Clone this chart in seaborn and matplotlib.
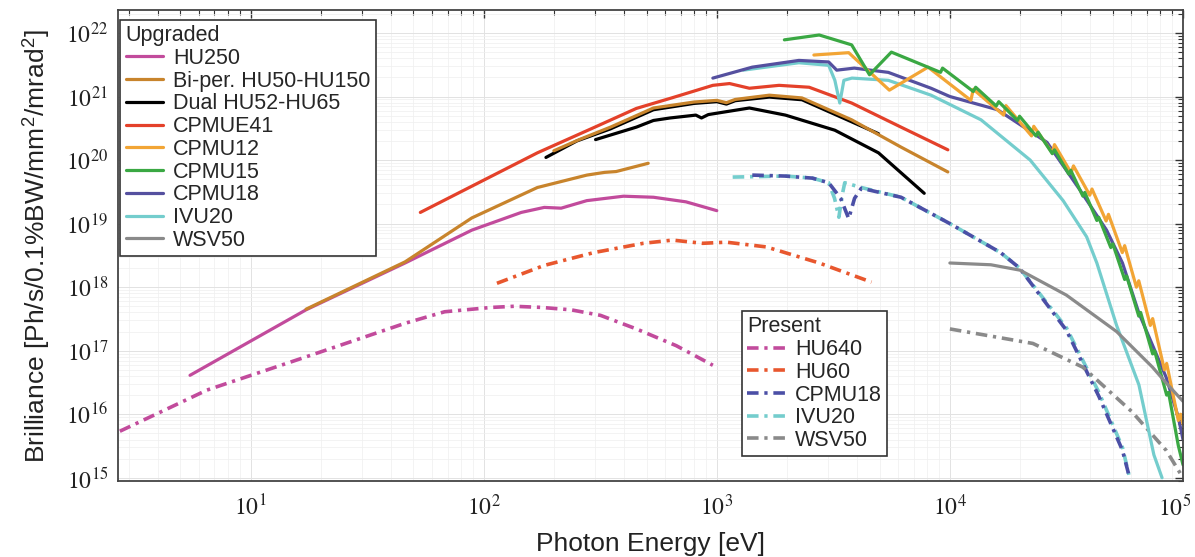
import matplotlib
matplotlib.use("Agg")
import matplotlib.pyplot as plt
from matplotlib.ticker import LogLocator, FixedLocator, FuncFormatter, NullFormatter
from matplotlib.transforms import ScaledTranslation
import seaborn as sns
import numpy as np

# ---------------- data ----------------
# Upgraded sources (solid)
hu250_E = [5.5, 17.3, 46, 89, 145, 182, 215, 277, 398, 535, 738, 1000]
hu250_B = [4.1e16, 4.4e17, 2.4e18, 7.9e18, 1.5e19, 1.8e19, 1.75e19, 2.3e19, 2.7e19, 2.6e19, 2.2e19, 1.6e19]

biper_lo_E = [17.3, 46, 89, 170, 277, 330, 370, 508]
biper_lo_B = [4.5e17, 2.5e18, 1.23e19, 3.7e19, 5.8e19, 6.4e19, 6.6e19, 8.9e19]
biper_hi_E = [200, 257, 350, 535, 800, 1000, 1100, 1200, 1680, 2320, 3790, 6170, 9800]
biper_hi_B = [1.4e20, 2.1e20, 3.3e20, 6.6e20, 8.2e20, 8.7e20, 8.0e20, 9.0e20, 1.05e21, 9.5e20, 4.3e20, 1.6e20, 6.5e19]

dual_a_E = [185, 251, 350, 535, 800, 1000, 1100, 1200, 1680, 2320, 3790, 4940]
dual_a_B = [1.1e20, 2.0e20, 3.1e20, 6.2e20, 7.8e20, 8.3e20, 7.6e20, 8.6e20, 9.8e20, 8.9e20, 4.0e20, 2.6e20]
dual_b_E = [302, 452, 535, 631, 813, 860, 920, 1380, 1970, 3210, 4940, 7760]
dual_b_B = [2.1e20, 3.3e20, 4.2e20, 4.6e20, 5.1e20, 4.6e20, 5.2e20, 6.6e20, 5.1e20, 2.95e20, 1.3e20, 3.0e19]

cpmue41_E = [53.5, 170, 300, 452, 640, 962, 1135, 1380, 1850, 2490, 3790, 6170, 9800]
cpmue41_B = [1.5e19, 1.3e20, 3.3e20, 6.5e20, 9.5e20, 1.5e21, 1.6e21, 1.35e21, 1.5e21, 1.4e21, 7.9e20, 3.3e20, 1.45e20]

cpmu12_E = [2610, 3680, 5500, 8060, 12300, 12600, 17000, 17400, 22400, 22900, 27500, 28100,
            33100, 33900, 39800, 40700, 46800, 47900, 54900, 56200, 63100, 64600, 72400, 74100,
            83200, 85100, 95500, 97700, 100000]
cpmu12_B = [4.5e21, 4.9e21, 1.26e21, 2.9e21, 8.7e20, 1.3e21, 5.1e20, 7.2e20, 2.4e20, 3.4e20, 1.3e20, 1.75e20,
            6.3e19, 8.1e19, 2.8e19, 3.5e19, 1.1e19, 1.4e19, 3.5e18, 4.5e18, 1.0e18, 1.26e18, 2.5e17, 3.2e17,
            5.0e16, 6.3e16, 8.0e15, 1.0e16, 7.0e15]

cpmu15_E = [1950, 2750, 3790, 4520, 5610, 9120, 9300, 12600, 12900, 15800, 16200, 19500, 19900,
            23400, 23900, 27500, 28100, 32400, 33000, 37200, 37900, 42700, 43500, 49000, 50000,
            56200, 57300, 64600, 65800, 74100, 75500, 85100, 86700, 95500, 100000]
cpmu15_B = [7.8e21, 9.3e21, 6.5e21, 2.2e21, 5.0e21, 2.4e21, 2.8e21, 1.2e21, 1.4e21, 7.1e20, 8.3e20, 4.2e20, 4.9e20,
            2.4e20, 2.75e20, 1.26e20, 1.45e20, 6.0e19, 6.9e19, 2.7e19, 3.1e19, 1.12e19, 1.26e19, 4.2e18, 4.8e18,
            1.32e18, 1.5e18, 3.5e17, 4.0e17, 8.9e16, 1.0e17, 2.0e16, 2.2e16, 3.2e15, 1.6e15]

cpmu18_E = [962, 1420, 2250, 3020, 3270, 3890, 5440, 8300, 10000, 16000, 26100, 36100, 47000, 55000, 64700, 84700, 95500, 100000]
cpmu18_B = [1.95e21, 2.9e21, 3.7e21, 3.5e21, 2.6e21, 2.8e21, 2.4e21, 1.35e21, 1.0e21, 6.2e20, 1.9e20, 3.4e19, 7.9e18, 2.4e18, 3.9e17, 3.8e16, 8.9e15, 4.0e15]

ivu20_E = [1300, 2250, 3020, 3210, 3370, 3510, 3800, 5440, 8300, 13600, 22100, 30600, 38600, 42700, 51900, 64700, 75000, 81300]
ivu20_B = [2.6e21, 3.4e21, 3.1e21, 1.8e21, 7.9e20, 1.8e21, 1.95e21, 1.8e21, 1.05e21, 4.3e20, 1.0e20, 2.3e19, 6.2e18, 2.4e18, 2.5e17, 2.9e16, 2.3e15, 1.0e15]

wsv50_E = [10000, 15000, 20000, 31600, 51900, 74000, 84700, 100000]
wsv50_B = [2.4e18, 2.25e18, 1.85e18, 7.5e17, 2.0e17, 5.5e16, 3.1e16, 1.6e16]

# Present sources (dash-dot)
p_hu640_E = [2.75, 6.5, 17.3, 46, 68, 108, 135, 177, 237, 317, 452, 670, 962]
p_hu640_B = [5.4e15, 2.4e16, 8.0e16, 2.7e17, 4.1e17, 4.8e17, 5.0e17, 4.8e17, 4.4e17, 3.6e17, 2.2e17, 1.2e17, 5.9e16]

p_hu60_E = [114, 182, 297, 484, 646, 870, 1100, 1630, 2750, 4610]
p_hu60_B = [1.15e18, 2.2e18, 3.5e18, 4.9e18, 5.5e18, 4.9e18, 5.1e18, 4.3e18, 2.4e18, 1.2e18]

p_cpmu18_E = [1420, 1970, 2570, 3020, 3400, 3680, 3900, 4170, 6170, 10000, 16500, 19900, 31600, 43600, 55000, 59000]
p_cpmu18_B = [5.8e19, 5.6e19, 5.2e19, 4.4e19, 2.5e19, 1.2e19, 2.5e19, 3.6e19, 2.6e19, 1.0e19, 3.5e18, 2.0e18, 2.1e17, 1.9e16, 2.7e15, 1.0e15]

p_ivu20_E = [1170, 1970, 2570, 3020, 3200, 3340, 3450, 3540, 4170, 6170, 10000, 16500, 19900, 31600, 43600, 55000, 59000]
p_ivu20_B = [5.4e19, 5.6e19, 5.2e19, 4.4e19, 2.5e19, 1.26e19, 2.8e19, 4.4e19, 3.7e19, 2.6e19, 1.0e19, 3.5e18, 2.0e18, 2.3e17, 2.2e16, 3.0e15, 1.0e15]

p_wsv50_E = [10000, 22700, 37200, 60300, 84700, 100000]
p_wsv50_B = [2.2e17, 1.3e17, 5.5e16, 1.1e16, 2.7e15, 1.0e15]

upgraded_labels = ["HU250", "Bi-per. HU50-HU150", "Dual HU52-HU65", "CPMUE41", "CPMU12",
                   "CPMU15", "CPMU18", "IVU20", "WSV50"]
present_labels = ["HU640", "HU60", "CPMU18", "IVU20", "WSV50"]

x_tick_values = [1e1, 1e2, 1e3, 1e4, 1e5]
y_tick_values = [1e15, 1e16, 1e17, 1e18, 1e19, 1e20, 1e21, 1e22]

# ---------------- style ----------------
sns.set_style("white")
plt.rcParams["font.family"] = ["Liberation Sans", "DejaVu Sans"]
plt.rcParams["mathtext.fontset"] = "stix"

C_MAG = "#c24b9c"
C_BRN = "#c8842c"
C_BLK = "#000000"
C_RED = "#e4412a"
C_ORG = "#f2a535"
C_GRN = "#3aa843"
C_PUR = "#55509f"
C_CYN = "#74cdcd"
C_GRY = "#8a8a8a"
C_PRED = "#e8572e"
C_PBLU = "#4b4fa6"

fig = plt.figure(figsize=(11.95, 5.57), dpi=100)
ax = fig.add_axes([118 / 1195, 76 / 557, 1065 / 1195, 471 / 557])
ax.set_xscale("log")
ax.set_yscale("log")

LW = 2.3
DD = (0, (3.2, 1.6, 0.9, 1.6))


def draw(E, B, color, ls="-", lw=LW, z=2):
    sns.lineplot(x=E, y=B, ax=ax, color=color, linestyle=ls, linewidth=lw,
                 sort=False, estimator=None, legend=False, zorder=z)
    return ax.lines[-1]


up_handles = []
pr_handles = []
pr_handles.append(draw(p_hu640_E, p_hu640_B, C_MAG, DD, 2.6))
pr_handles.append(draw(p_hu60_E, p_hu60_B, C_PRED, DD, 2.6))
h_pivu = draw(p_ivu20_E, p_ivu20_B, C_CYN, DD, 2.6)
h_pcpmu = draw(p_cpmu18_E, p_cpmu18_B, C_PBLU, DD, 2.6)
pr_handles.append(h_pcpmu)
pr_handles.append(h_pivu)
pr_handles.append(draw(p_wsv50_E, p_wsv50_B, C_GRY, DD, 2.6))

up_handles.append(draw(hu250_E, hu250_B, C_MAG))
h_bi = draw(biper_lo_E, biper_lo_B, C_BRN)
h_du = draw(dual_a_E, dual_a_B, C_BLK)
draw(biper_hi_E, biper_hi_B, C_BRN)
draw(dual_b_E, dual_b_B, C_BLK)
up_handles.append(h_bi)
up_handles.append(h_du)
up_handles.append(draw(cpmue41_E, cpmue41_B, C_RED))
h_ivu = draw(ivu20_E, ivu20_B, C_CYN)
h_c18 = draw(cpmu18_E, cpmu18_B, C_PUR)
h_c12 = draw(cpmu12_E, cpmu12_B, C_ORG)
h_c15 = draw(cpmu15_E, cpmu15_B, C_GRN)
up_handles += [h_c12, h_c15, h_c18, h_ivu]
up_handles.append(draw(wsv50_E, wsv50_B, C_GRY))

# ---------------- axes ----------------
ax.set_xlim(2.7, 1.0e5)
ax.set_ylim(8.9e14, 2.3e22)

ax.xaxis.set_major_locator(FixedLocator(x_tick_values))
ax.xaxis.set_minor_locator(LogLocator(base=10, subs=np.arange(2, 10), numticks=100))
ax.yaxis.set_major_locator(FixedLocator(y_tick_values))
ax.yaxis.set_minor_locator(LogLocator(base=10, subs=np.arange(2, 10), numticks=100))
fmt = FuncFormatter(lambda v, p: r"$10^{%d}$" % int(round(np.log10(v))))
ax.xaxis.set_major_formatter(fmt)
ax.yaxis.set_major_formatter(fmt)
ax.xaxis.set_minor_formatter(NullFormatter())
ax.yaxis.set_minor_formatter(NullFormatter())

ax.tick_params(which="both", direction="in", top=True, right=True, colors="#333333")
ax.tick_params(which="major", length=6, width=1.0, labelsize=17, pad=7, labelcolor="#222222")
ax.tick_params(axis="x", which="major", pad=10)
ax.tick_params(which="minor", length=3.5, width=0.8)

ax.grid(True, which="major", color="#e2e2e2", linewidth=0.7)
ax.grid(True, which="minor", color="#efefef", linewidth=0.5)
ax.set_axisbelow(True)
for s in ax.spines.values():
    s.set_color("#444444")
    s.set_linewidth(1.3)

ax.set_xlabel("Photon Energy [eV]", fontsize=19, labelpad=8, color="#222222")
ax.set_ylabel(r"Brilliance [Ph/s/0.1%BW/mm$^{\mathdefault{2}}$/mrad$^{\mathdefault{2}}$]",
              fontsize=19, labelpad=10, color="#222222")

# keep the last x tick label inside the canvas
fig.canvas.draw()
for tk in ax.xaxis.get_major_ticks():
    if abs(tk.get_loc() - 1e5) < 1:
        tk.label1.set_transform(tk.label1.get_transform() +
                                ScaledTranslation(-6 / 72, 0, fig.dpi_scale_trans))

# ---------------- legends ----------------
leg_kw = dict(fontsize=15.5, title_fontsize=15.5, frameon=True, fancybox=False, framealpha=1,
              edgecolor="#333333", borderpad=0.25, handlelength=1.75, handletextpad=0.45,
              labelspacing=0.08, borderaxespad=0, alignment="left")
leg1 = ax.legend(up_handles, upgraded_labels, title="Upgraded", loc="upper left",
                 bbox_to_anchor=(0.002, 0.979), **leg_kw)
leg1.get_frame().set_linewidth(1.2)
ax.add_artist(leg1)
leg2 = ax.legend(pr_handles, present_labels, title="Present", loc="upper left",
                 bbox_to_anchor=(0.586, 0.361), **leg_kw)
leg2.get_frame().set_linewidth(1.2)

fig.savefig("out.png", dpi=100)
